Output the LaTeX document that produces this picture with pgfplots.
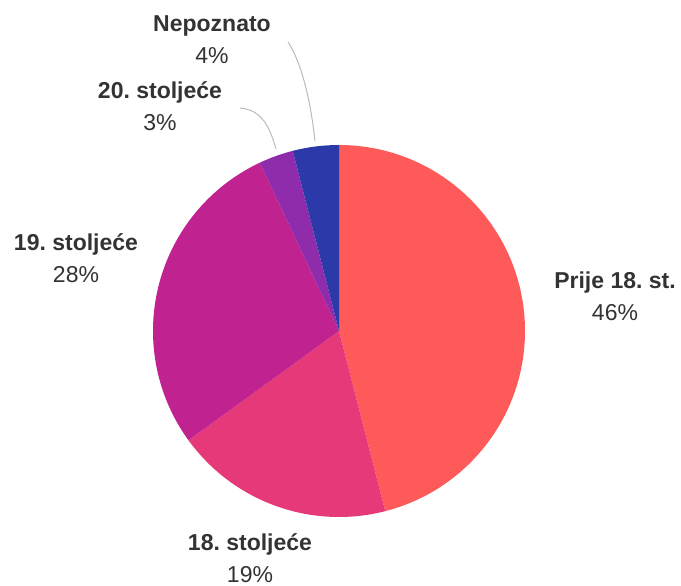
\documentclass[border=0pt]{standalone}
\usepackage{pgfplots}
\usepackage{pgfplotstable}
\pgfplotsset{compat=1.18}
\usepackage{fontspec}
\setmainfont{Liberation Sans}
\frenchspacing
\definecolor{cA}{HTML}{FF5A5A}
\definecolor{cB}{HTML}{E6397A}
\definecolor{cC}{HTML}{C0228F}
\definecolor{cD}{HTML}{8E2CAC}
\definecolor{cE}{HTML}{2B3AA8}
\definecolor{txt}{HTML}{333333}
\definecolor{lead}{HTML}{BBBBBB}

\pgfplotstableread[col sep=comma]{
label,value,color,lx,ly
Prije 18. st.,46,cA,615,288
18. stoljeće,19,cB,250,550
19. stoljeće,28,cC,76,250
20. stoljeće,3,cD,160,99
Nepoznato,4,cE,212,32
}\piedata

\begin{document}
\begin{tikzpicture}
\begin{axis}[
  hide axis, x=1pt, y=1pt, y dir=reverse,
  xmin=0, xmax=681, ymin=0, ymax=586,
  scale only axis, clip=false,
]
\pgfplotsextra{
  \gdef\cum{0}
  \foreach \i in {0,...,4}{
    \pgfplotstablegetelem{\i}{value}\of\piedata \let\v=\pgfplotsretval
    \pgfplotstablegetelem{\i}{color}\of\piedata \let\c=\pgfplotsretval
    \pgfmathsetmacro\a{90-3.6*\cum}
    \pgfmathsetmacro\b{90-3.6*(\cum+\v)}
    \fill[\c] (axis cs:339,331) -- ++(\a:186pt) arc[start angle=\a, end angle=\b, radius=186pt] -- cycle;
    \pgfmathsetmacro\t{\cum+\v}\xdef\cum{\t}
  }
  \foreach \i in {0,...,4}{
    \pgfplotstablegetelem{\i}{value}\of\piedata \let\v=\pgfplotsretval
    \pgfplotstablegetelem{\i}{label}\of\piedata \let\l=\pgfplotsretval
    \pgfplotstablegetelem{\i}{lx}\of\piedata \let\x=\pgfplotsretval
    \pgfplotstablegetelem{\i}{ly}\of\piedata \let\y=\pgfplotsretval
    \node[anchor=base, text=txt, font=\fontsize{23}{27}\selectfont\bfseries, inner sep=0pt] at (axis cs:\x,\y) {\l};
    \pgfmathsetmacro\yy{\y+32}
    \node[anchor=base, text=txt, font=\fontsize{23}{27}\selectfont, inner sep=0pt] at (axis cs:\x,\yy) {\v\%};
  }
  \draw[lead, line width=1pt] (axis cs:276,149) .. controls (axis cs:268,120) and (axis cs:258,110) .. (axis cs:240,108);
  \draw[lead, line width=1pt] (axis cs:315,141) .. controls (axis cs:310,95) and (axis cs:300,60) .. (axis cs:288,42);
}
\end{axis}
\pgfresetboundingbox
\path (current axis.south west) rectangle (current axis.north east);
\end{tikzpicture}
\end{document}
